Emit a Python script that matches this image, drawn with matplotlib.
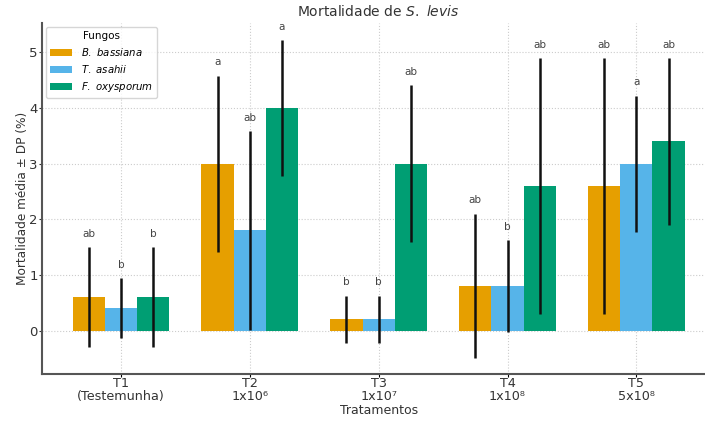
import numpy as np
from matplotlib import pyplot as plt

tratamentos = ['T1\n(Testemunha)', 'T2\n1x10\u2076', 'T3\n1x10\u2077', 'T4\n1x10\u2078', 'T5\n5x10\u2078']
fungos = [r'$B.\ bassiana$', r'$T.\ asahii$', r'$F.\ oxysporum$']
cores = ['#E69F00', '#56B4E9', '#009E73']

medias = [
    [0.6, 3.0, 0.2, 0.8, 2.6],   # B. bassiana
    [0.4, 1.8, 0.2, 0.8, 3.0],   # T. asahii
    [0.6, 4.0, 3.0, 2.6, 3.4],   # F. oxysporum
]
dp = [
    [0.9, 1.58, 0.43, 1.3, 2.3],
    [0.54, 1.78, 0.43, 0.83, 1.22],
    [0.9, 1.22, 1.41, 2.3, 1.5],
]
letras = [
    ['ab', 'a', 'b', 'ab', 'ab'],
    ['b', 'ab', 'b', 'b', 'a'],
    ['b', 'a', 'ab', 'ab', 'ab'],
]

fig = plt.figure(figsize=(7.05, 4.23), dpi=100)
ax = fig.add_axes([0.0596, 0.1158, 0.955, 0.83])

x = np.arange(len(tratamentos))
w = 0.25
for i in range(3):
    pos = x + (i - 1) * w
    ax.bar(pos, medias[i], w, color=cores[i], label=fungos[i], zorder=2)
    ax.errorbar(pos, medias[i], yerr=dp[i], fmt='none', ecolor='#111111',
                elinewidth=1.8, capsize=0, zorder=3)
    for p, m, d, l in zip(pos, medias[i], dp[i], letras[i]):
        ax.text(p, m + d + 0.15, l, ha='center', va='bottom', fontsize=7.5, color='#444444')

ax.set_xticks(x)
ax.set_xticklabels(tratamentos, fontsize=9.2, color='#333333', linespacing=1.0)
ax.set_xlim(-0.6125, 4.6125)
ax.set_ylim(-0.78, 5.53)
ax.set_yticks([0, 1, 2, 3, 4, 5])
ax.tick_params(axis='y', labelsize=9.5, colors='#333333', length=2, width=0.8, pad=1)
ax.tick_params(axis='x', length=2, width=0.8, pad=0)
ax.grid(True, linestyle=':', color='#cccccc', linewidth=0.8, zorder=0)
ax.set_axisbelow(True)
for s in ['top', 'right']:
    ax.spines[s].set_visible(False)
for s in ['left', 'bottom']:
    ax.spines[s].set_color('#555555')
    ax.spines[s].set_linewidth(1.5)

ax.set_xlabel('Tratamentos', fontsize=9, color='#333333', labelpad=1)
ax.set_ylabel('Mortalidade média ± DP (%)', fontsize=8.7, color='#333333', labelpad=0.5)
ax.set_title(r'Mortalidade de $S.\ levis$', fontsize=10, color='#333333', pad=5)

leg = ax.legend(title='Fungos', loc='upper left', fontsize=7.3, title_fontsize=7.5,
                frameon=True, borderaxespad=0.4, handlelength=2.2)
leg.get_frame().set_edgecolor('#cccccc')

fig.savefig('out.png', dpi=100)
